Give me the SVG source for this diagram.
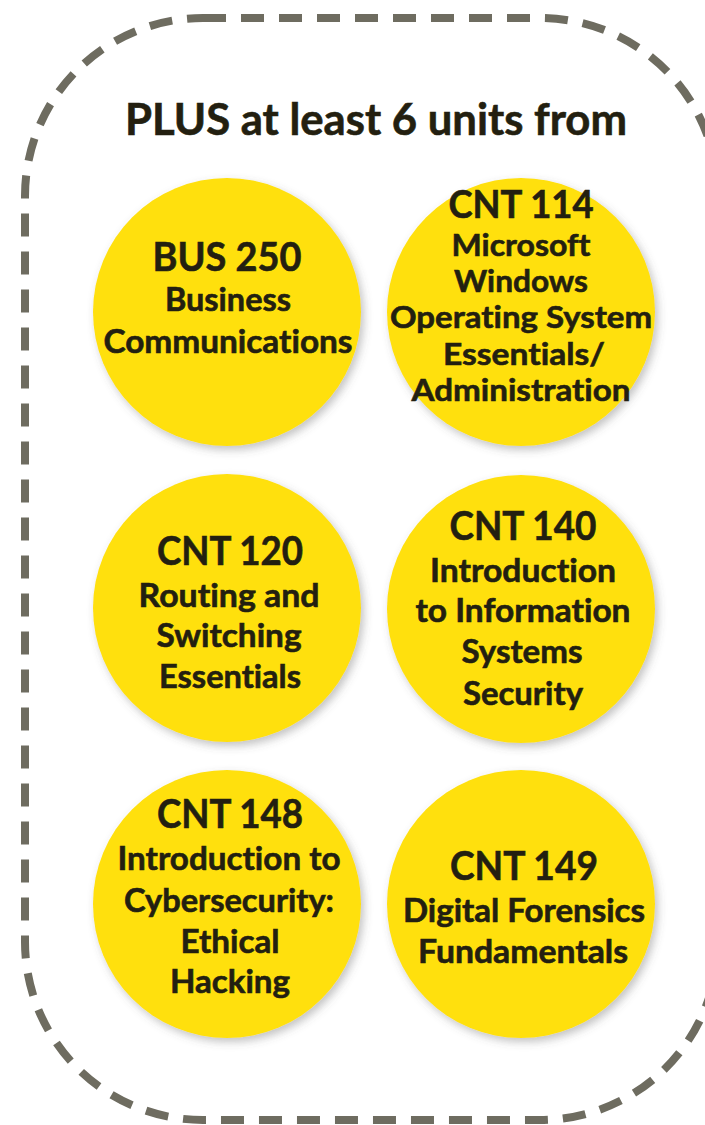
<svg xmlns="http://www.w3.org/2000/svg" width="705" height="1125" viewBox="0 0 705 1125">
  <style>
    .frame { fill: none; stroke: #6e6c60; stroke-width: 8; stroke-dasharray: 23 15; }
    .disc { fill: #FFE011; filter: url(#shadow); }
    text { font-family: Lato, "Open Sans", "Liberation Sans", sans-serif; font-weight: 700; fill: #231f10; stroke: #231f10; stroke-width: 0.6; text-anchor: middle; font-variant-ligatures: none; font-feature-settings: "liga" 0, "clig" 0, "dlig" 0; }
    .title { font-size: 44px; }
    .code { font-size: 40px; }
    .body { font-size: 32px; }
    .code2 { font-size: 38px; }
    .body2 { font-size: 31px; }
  </style>
  <defs>
    <filter id="shadow" x="-20%" y="-20%" width="140%" height="140%">
      <feDropShadow dx="3" dy="4" stdDeviation="4" flood-color="#555" flood-opacity="0.35"/>
    </filter>
  </defs>
  <rect width="705" height="1125" fill="#ffffff"/>
  <g id="frame">
    <rect class="frame" x="25" y="18" width="693" height="1102" rx="178" ry="178"/>
  </g>
  <g id="title">
    <text class="title" x="376" y="135" textLength="502" lengthAdjust="spacingAndGlyphs">PLUS at least 6 units from</text>
  </g>
  <g id="connectors"></g>
  <g id="bus250">
    <circle class="disc" cx="227" cy="312" r="134"/>
    <text class="code" x="227" y="271" textLength="149" lengthAdjust="spacingAndGlyphs">BUS 250</text>
    <text class="body" x="228" y="311" textLength="126" lengthAdjust="spacingAndGlyphs">Business</text>
    <text class="body" x="228" y="353" textLength="249" lengthAdjust="spacingAndGlyphs">Communications</text>
  </g>
  <g id="cnt114">
    <circle class="disc" cx="521" cy="312" r="134"/>
    <text class="code2" x="521" y="218" textLength="145" lengthAdjust="spacingAndGlyphs">CNT 114</text>
    <text class="body2" x="521" y="256" textLength="139" lengthAdjust="spacingAndGlyphs">Microsoft</text>
    <text class="body2" x="521" y="292" textLength="134" lengthAdjust="spacingAndGlyphs">Windows</text>
    <text class="body2" x="521" y="328" textLength="262" lengthAdjust="spacingAndGlyphs">Operating System</text>
    <text class="body2" x="524" y="365" textLength="162" lengthAdjust="spacingAndGlyphs">Essentials/</text>
    <text class="body2" x="521" y="401" textLength="219" lengthAdjust="spacingAndGlyphs">Administration</text>
  </g>
  <g id="cnt120">
    <circle class="disc" cx="227" cy="608" r="134"/>
    <text class="code" x="230" y="565" textLength="146" lengthAdjust="spacingAndGlyphs">CNT 120</text>
    <text class="body" x="229" y="607" textLength="181" lengthAdjust="spacingAndGlyphs">Routing and</text>
    <text class="body" x="229" y="647" textLength="145" lengthAdjust="spacingAndGlyphs">Switching</text>
    <text class="body" x="230" y="688" textLength="142" lengthAdjust="spacingAndGlyphs">Essentials</text>
  </g>
  <g id="cnt140">
    <circle class="disc" cx="521" cy="609" r="134"/>
    <text class="code" x="523" y="540" textLength="147" lengthAdjust="spacingAndGlyphs">CNT 140</text>
    <text class="body" x="523" y="582" textLength="186" lengthAdjust="spacingAndGlyphs">Introduction</text>
    <text class="body" x="523" y="622" textLength="215" lengthAdjust="spacingAndGlyphs">to Information</text>
    <text class="body" x="522" y="663" textLength="121" lengthAdjust="spacingAndGlyphs">Systems</text>
    <text class="body" x="523" y="705" textLength="120" lengthAdjust="spacingAndGlyphs">Security</text>
  </g>
  <g id="cnt148">
    <circle class="disc" cx="227" cy="904" r="134"/>
    <text class="code" x="230" y="828" textLength="146" lengthAdjust="spacingAndGlyphs">CNT 148</text>
    <text class="body" x="229" y="870" textLength="223" lengthAdjust="spacingAndGlyphs">Introduction to</text>
    <text class="body" x="229" y="912" textLength="210" lengthAdjust="spacingAndGlyphs">Cybersecurity:</text>
    <text class="body" x="230" y="953" textLength="99" lengthAdjust="spacingAndGlyphs">Ethical</text>
    <text class="body" x="230" y="993" textLength="120" lengthAdjust="spacingAndGlyphs">Hacking</text>
  </g>
  <g id="cnt149">
    <circle class="disc" cx="521" cy="904" r="134"/>
    <text class="code" x="524" y="880" textLength="148" lengthAdjust="spacingAndGlyphs">CNT 149</text>
    <text class="body" x="524" y="922" textLength="242" lengthAdjust="spacingAndGlyphs">Digital Forensics</text>
    <text class="body" x="523" y="963" textLength="210" lengthAdjust="spacingAndGlyphs">Fundamentals</text>
  </g>
</svg>
